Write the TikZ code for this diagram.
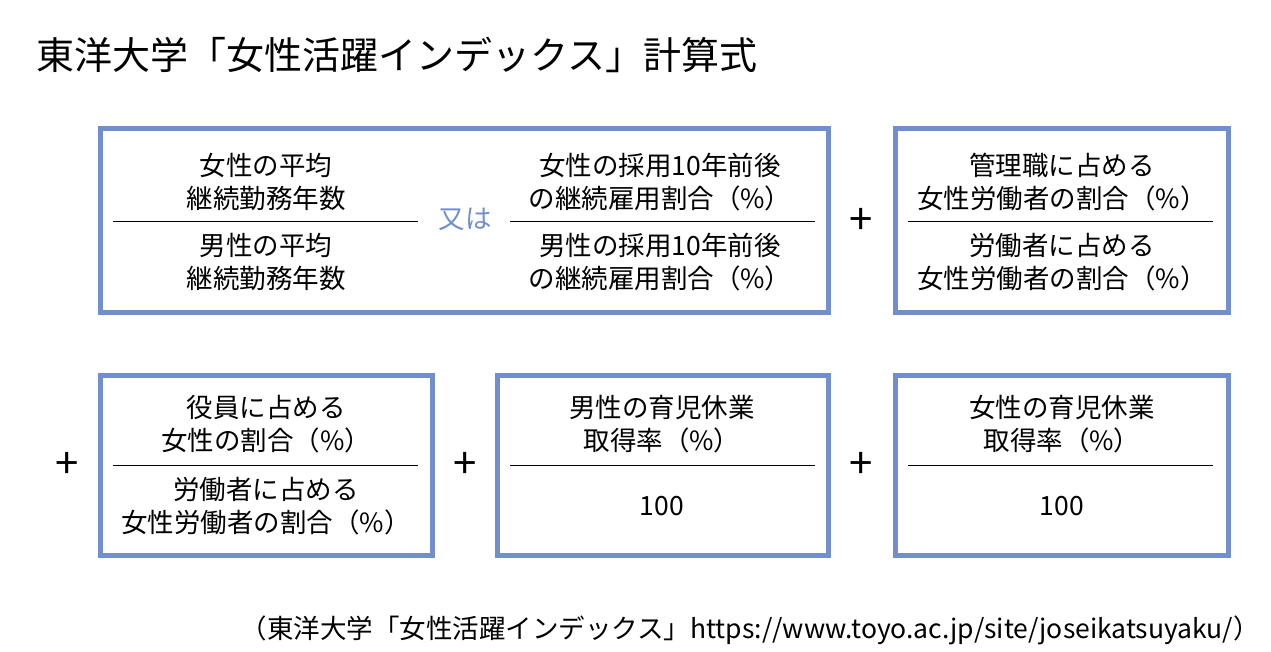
\documentclass[tikz,border=0pt]{standalone}
\usepackage{fontspec}
\setmainfont{Noto Sans CJK JP}
\usetikzlibrary{positioning}
\definecolor{frameblue}{RGB}{112,143,204}
\tikzset{frame box/.style={draw=frameblue,line width=5pt},
  frac line/.style={draw,line width=1pt},
  txt/.style={font=\fontsize{26.5}{33}\selectfont,align=center,inner sep=0pt},
  plus sign/.style={font=\fontsize{42}{42}\selectfont,inner sep=0pt},}
\begin{document}
\begin{tikzpicture}[x=1pt,y=-1pt]
    \useasboundingbox (0,0) rectangle (1271,651);
    \node[anchor=west,inner sep=0pt,font=\fontsize{38}{38}\selectfont] (title) at (36,55) {東洋大学「女性活躍インデックス」計算式};

    % boxes
    \draw[frame box] (100,128) rectangle (828,312);
    \draw[frame box] (895,128) rectangle (1228,312);
    \draw[frame box] (100,375) rectangle (432,555);
    \draw[frame box] (497,375) rectangle (828,555);
    \draw[frame box] (895,375) rectangle (1228,555);

    % fraction lines
    \draw[frac line] (113,221) -- (418,221);
    \draw[frac line] (510,221) -- (815,221);
    \draw[frac line] (908,221) -- (1213,221);
    \draw[frac line] (113,465) -- (418,465);
    \draw[frac line] (510,465) -- (815,465);
    \draw[frac line] (908,465) -- (1213,465);

    % first row
    \node[txt] (n1) at (266,182) {女性の平均\\継続勤務年数};
    \node[txt] (d1) at (266,262) {男性の平均\\継続勤務年数};
    \node[txt,text=frameblue] (or) at (465,219) {又は};
    \node[txt] (n2) at (660,182) {女性の採用10年前後\\の継続雇用割合（\%）};
    \node[txt] (d2) at (660,262) {男性の採用10年前後\\の継続雇用割合（\%）};
    \node[plus sign] (p1) at (861,221) {+};
    \node[txt] (n3) at (1062,182) {管理職に占める\\女性労働者の割合（\%）};
    \node[txt] (d3) at (1062,262) {労働者に占める\\女性労働者の割合（\%）};

    % second row
    \node[plus sign] (p2) at (67,465) {+};
    \node[txt] (n4) at (266,424) {役員に占める\\女性の割合（\%）};
    \node[txt] (d4) at (266,506) {労働者に占める\\女性労働者の割合（\%）};
    \node[plus sign] (p3) at (465,465) {+};
    \node[txt] (n5) at (662,424) {男性の育児休業\\取得率（\%）};
    \node[txt] (d5) at (662,506) {100};
    \node[plus sign] (p4) at (861,465) {+};
    \node[txt] (n6) at (1062,424) {女性の育児休業\\取得率（\%）};
    \node[txt] (d6) at (1062,506) {100};

    \node[txt,anchor=east] (src) at (1260,630) {（東洋大学「女性活躍インデックス」https://www.toyo.ac.jp/site/joseikatsuyaku/）};
\end{tikzpicture}
\end{document}
